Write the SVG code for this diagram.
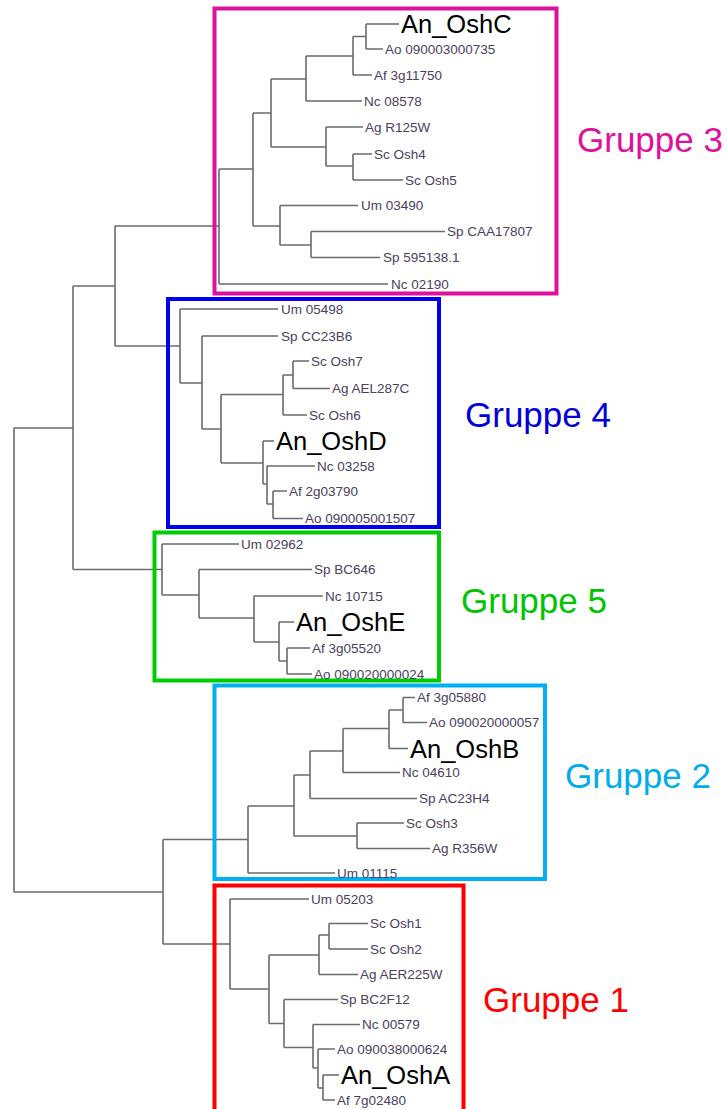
<svg xmlns="http://www.w3.org/2000/svg" width="727" height="1109" viewBox="0 0 727 1109">
  <style>
    .branch { fill: none; stroke: #6b6b6b; stroke-width: 1.6; }
    .box { fill: none; stroke-width: 4; }
    .leaf { font-family: "Liberation Sans", Arial, sans-serif; font-size: 13.5px; fill: #4a4060; }
    .big { font-family: "Liberation Sans", Arial, sans-serif; font-size: 25.5px; fill: #000; }
    .grp { font-family: "Liberation Sans", Arial, sans-serif; font-size: 35px; }
  </style>
  <rect width="727" height="1109" fill="#fff"/>

  <!-- tree branches -->
  <g id="connectors" class="branch">
    <!-- trunk -->
    <path d="M14,428 V892 M14,428 H73 M14,892 H163"/>
    <path d="M73,286 V569.5 M73,286 H115 M73,569.5 H162"/>
    <path d="M115,226 V346 M115,226 H219 M115,346 H180"/>
    <path d="M163,839.5 V944 M163,839.5 H248 M163,944 H230"/>
    <!-- clade 3 -->
    <path d="M219,169 V284 M219,169 H253 M219,284 H388"/>
    <path d="M253,113 V226 M253,113 H271 M253,226 H280"/>
    <path d="M271,79 V147 M271,79 H306 M271,147 H326"/>
    <path d="M306,56 V101 M306,56 H353 M306,101 H362"/>
    <path d="M353,36.5 V75 M353,36.5 H366 M353,75 H372"/>
    <path d="M366,24 V49 M366,24 H399 M366,49 H383"/>
    <path d="M326,127 V166 M326,127 H363 M326,166 H353"/>
    <path d="M353,154 V180 M353,154 H372 M353,180 H403"/>
    <path d="M280,205.5 V245 M280,205.5 H358 M280,245 H311"/>
    <path d="M311,231.5 V257.5 M311,231.5 H445 M311,257.5 H380"/>
    <!-- clade 4 -->
    <path d="M180,309 V383 M180,309 H278 M180,383 H202"/>
    <path d="M202,336 V429 M202,336 H278 M202,429 H221"/>
    <path d="M221,394.5 V463 M221,394.5 H283 M221,463 H263"/>
    <path d="M283,375 V415 M283,375 H293 M283,415 H307"/>
    <path d="M293,361 V388.5 M293,361 H309 M293,388.5 H330"/>
    <path d="M263,441 V484 M263,441 H274 M263,484 H267"/>
    <path d="M267,466 V504 M267,466 H315 M267,504 H273"/>
    <path d="M273,491 V518.5 M273,491 H287 M273,518.5 H303"/>
    <!-- clade 5 -->
    <path d="M162,544 V595 M162,544 H239 M162,595 H199"/>
    <path d="M199,569.5 V618 M199,569.5 H312 M199,618 H254"/>
    <path d="M254,596 V642 M254,596 H323 M254,642 H279"/>
    <path d="M279,622 V661 M279,622 H294 M279,661 H287"/>
    <path d="M287,648 V674 M287,648 H310 M287,674 H312"/>
    <!-- clade 2 -->
    <path d="M248,806 V873 M248,806 H294 M248,873 H335"/>
    <path d="M294,775 V836 M294,775 H310 M294,836 H357"/>
    <path d="M357,823 V848.5 M357,823 H404 M357,848.5 H430"/>
    <path d="M310,751 V798.5 M310,751 H343 M310,798.5 H417"/>
    <path d="M343,728.5 V772.5 M343,728.5 H389 M343,772.5 H400"/>
    <path d="M389,710 V748.5 M389,710 H403 M389,748.5 H408"/>
    <path d="M403,697.5 V722.5 M403,697.5 H415 M403,722.5 H427"/>
    <!-- clade 1 -->
    <path d="M230,899 V989 M230,899 H309 M230,989 H269"/>
    <path d="M269,955 V1023.5 M269,955 H319 M269,1023.5 H284"/>
    <path d="M319,935 V974.5 M319,935 H329 M319,974.5 H358"/>
    <path d="M329,923.5 V949 M329,923.5 H368 M329,949 H368"/>
    <path d="M284,999.5 V1047.5 M284,999.5 H338 M284,1047.5 H313"/>
    <path d="M313,1024.5 V1068 M313,1024.5 H360 M313,1068 H318"/>
    <path d="M318,1049 V1088 M318,1049 H335 M318,1088 H323"/>
    <path d="M323,1075 V1100 M323,1075 H339 M323,1100 H335"/>
  </g>

  <!-- group frames with their titles -->
  <g id="gruppe3">
    <rect class="box" x="214.5" y="8.5" width="342" height="285" stroke="#DD119C"/>
    <text class="grp" x="577" y="152" fill="#DD119C">Gruppe 3</text>
  </g>
  <g id="gruppe4">
    <rect class="box" x="168" y="299" width="271" height="228" stroke="#0000F0"/>
    <text class="grp" x="465" y="427" fill="#0000D8">Gruppe 4</text>
  </g>
  <g id="gruppe5">
    <rect class="box" x="154.5" y="532.5" width="284.5" height="148" stroke="#00CC00"/>
    <text class="grp" x="461" y="613" fill="#00C400">Gruppe 5</text>
  </g>
  <g id="gruppe2">
    <rect class="box" x="214.5" y="685.5" width="330.5" height="193.5" stroke="#00B0F0"/>
    <text class="grp" x="565" y="788" fill="#00ACEC">Gruppe 2</text>
  </g>
  <g id="gruppe1">
    <rect class="box" x="214.5" y="885.5" width="249" height="240" stroke="#FF0000"/>
    <text class="grp" x="483" y="1012" fill="#FF0000">Gruppe 1</text>
  </g>

  <!-- leaf labels -->
  <g id="leaves3">
    <text id="an-oshc" class="big" x="401" y="33">An_OshC</text>
    <text class="leaf" x="385" y="54">Ao 090003000735</text>
    <text class="leaf" x="374" y="80">Af 3g11750</text>
    <text class="leaf" x="364" y="106">Nc 08578</text>
    <text class="leaf" x="365" y="132">Ag R125W</text>
    <text class="leaf" x="374" y="159">Sc Osh4</text>
    <text class="leaf" x="405" y="185">Sc Osh5</text>
    <text class="leaf" x="361" y="210">Um 03490</text>
    <text class="leaf" x="447" y="236">Sp CAA17807</text>
    <text class="leaf" x="383" y="262">Sp 595138.1</text>
    <text class="leaf" x="391" y="289">Nc 02190</text>
  </g>
  <g id="leaves4">
    <text class="leaf" x="281" y="314">Um 05498</text>
    <text class="leaf" x="281" y="341">Sp CC23B6</text>
    <text class="leaf" x="311" y="366">Sc Osh7</text>
    <text class="leaf" x="332" y="393">Ag AEL287C</text>
    <text class="leaf" x="309" y="420">Sc Osh6</text>
    <text id="an-oshd" class="big" x="276" y="450">An_OshD</text>
    <text class="leaf" x="317" y="471">Nc 03258</text>
    <text class="leaf" x="289" y="496">Af 2g03790</text>
    <text class="leaf" x="305" y="523">Ao 090005001507</text>
  </g>
  <g id="leaves5">
    <text class="leaf" x="241" y="549">Um 02962</text>
    <text class="leaf" x="314" y="574">Sp BC646</text>
    <text class="leaf" x="325" y="601">Nc 10715</text>
    <text id="an-oshe" class="big" x="296" y="631">An_OshE</text>
    <text class="leaf" x="312" y="653">Af 3g05520</text>
    <text class="leaf" x="314" y="679">Ao 090020000024</text>
  </g>
  <g id="leaves2">
    <text class="leaf" x="417" y="702">Af 3g05880</text>
    <text class="leaf" x="429" y="727">Ao 090020000057</text>
    <text id="an-oshb" class="big" x="410" y="757.5">An_OshB</text>
    <text class="leaf" x="402" y="777">Nc 04610</text>
    <text class="leaf" x="419" y="803">Sp AC23H4</text>
    <text class="leaf" x="406" y="828">Sc Osh3</text>
    <text class="leaf" x="432" y="853">Ag R356W</text>
    <text class="leaf" x="337" y="878">Um 01115</text>
  </g>
  <g id="leaves1">
    <text class="leaf" x="311" y="904">Um 05203</text>
    <text class="leaf" x="370" y="928">Sc Osh1</text>
    <text class="leaf" x="370" y="954">Sc Osh2</text>
    <text class="leaf" x="360" y="979">Ag AER225W</text>
    <text class="leaf" x="340" y="1004">Sp BC2F12</text>
    <text class="leaf" x="362" y="1029">Nc 00579</text>
    <text class="leaf" x="337" y="1054">Ao 090038000624</text>
    <text id="an-osha" class="big" x="341" y="1084">An_OshA</text>
    <text class="leaf" x="337" y="1104.5">Af 7g02480</text>
  </g>
</svg>
